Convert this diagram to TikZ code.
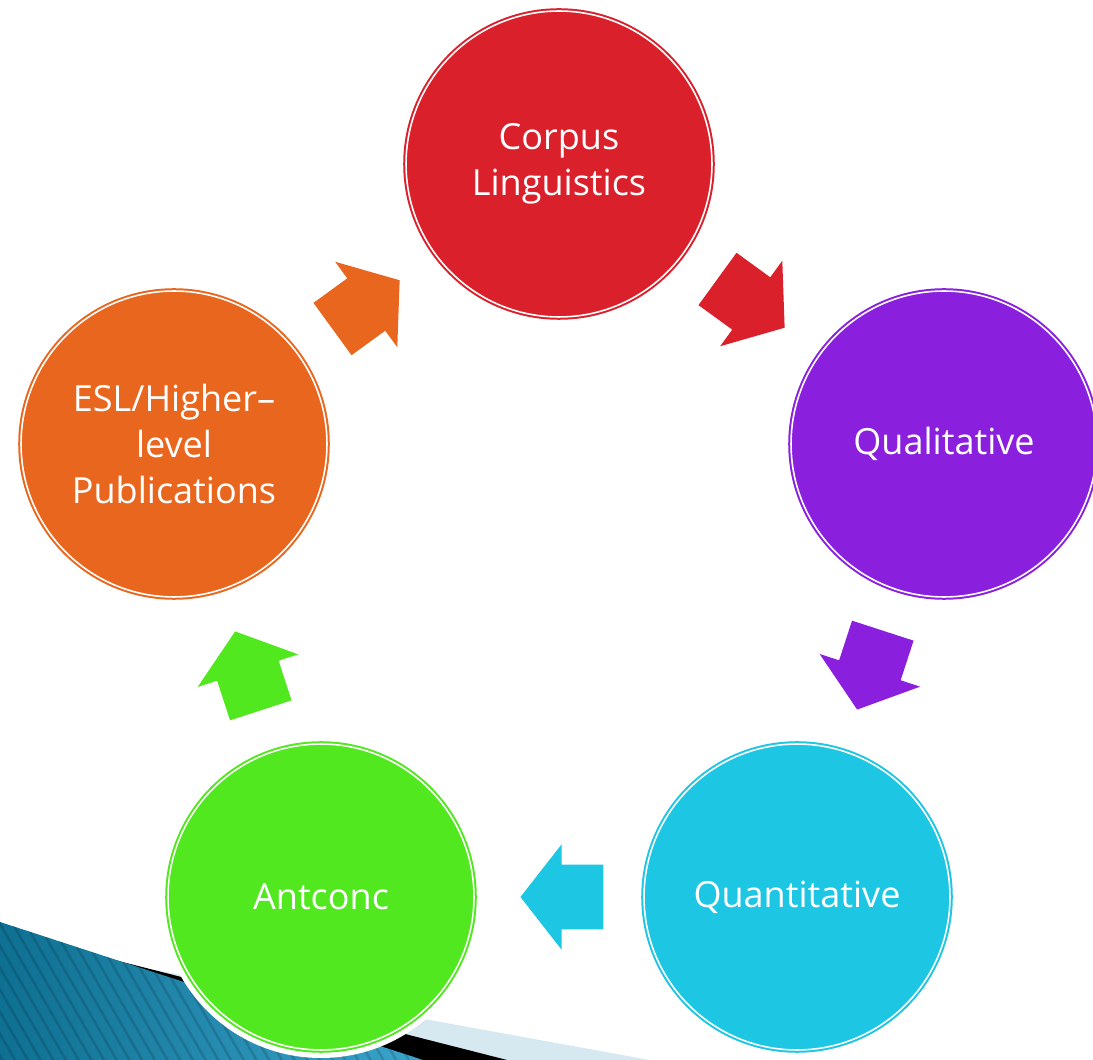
\documentclass[tikz,border=0pt]{standalone}
\usepackage{fontspec}
\newfontfamily\stagefont{Open Sans}
\usetikzlibrary{shapes.arrows,patterns.meta}

\definecolor{corpusred}{RGB}{218,32,42}
\definecolor{qualpurple}{RGB}{138,31,222}
\definecolor{quantcyan}{RGB}{29,198,227}
\definecolor{antgreen}{RGB}{82,232,32}
\definecolor{eslorange}{RGB}{233,102,30}
\definecolor{swooshdark}{RGB}{14,112,146}
\definecolor{swooshlight}{RGB}{64,170,210}
\definecolor{swooshpale}{RGB}{214,233,241}

\tikzset{
	stagecircle/.style={circle, fill=#1, draw=#1, double=white, double distance=0.032cm, line width=0.04cm, minimum size=6.12cm, inner sep=0pt, text=white, align=center, font=\stagefont\fontsize{20.5}{26}\selectfont},
	flowarrow/.style={single arrow, fill=#1, draw=none, minimum height=1.66cm, minimum width=2.1cm, single arrow head extend=0.41cm, single arrow tip angle=104, single arrow head indent=0pt, inner xsep=0pt, inner ysep=0.64cm, anchor=tip},
	halo/.style={fill=white}
}

\begin{document}
\begin{tikzpicture}[x=0.02cm, y=-0.02cm]
	%%%%% START %%%%%
	
	\useasboundingbox (0, 0) rectangle (1093, 1060);
	\clip (0, 0) rectangle (1093, 1060);
	
	% swoosh in the lower left corner
	\fill[swooshpale] (133, 966) -- (732, 1075) -- (133, 1075) -- cycle;
	\fill[black] (95, 955) -- (566, 1075) -- (95, 1075) -- cycle;
	\shade[left color=swooshdark, right color=swooshlight] (0, 922) -- (469, 1075) -- (0, 1075) -- cycle;
	\begin{scope}[transparency group, opacity=0.14]
		\fill[pattern={Lines[angle=-60, distance=0.22cm, line width=0.05cm]}, pattern color=black] (0, 922) -- (469, 1075) -- (0, 1075) -- cycle;
	\end{scope}
	
	% white rim round the circle sitting on the swoosh
	\fill[halo] (321, 897) circle (161);
	
	% stages
	\node[stagecircle=corpusred] (corpus) at (559, 164) {Corpus\\Linguistics};
	\node[stagecircle=qualpurple] (qual) at (944, 444) {Qualitative};
	\node[stagecircle=quantcyan] (quant) at (797, 897) {Quantitative};
	\node[stagecircle=antgreen] (antconc) at (321, 897) {Antconc};
	\node[stagecircle=eslorange] (esl) at (174, 444) {ESL/Higher–\\level\\Publications};
	
	% arrows between the stages
	\node[flowarrow=corpusred, rotate=-36] (corpus2qual) at (785, 328) {};
	\node[flowarrow=qualpurple, rotate=-108] (qual2quant) at (857, 710) {};
	\node[flowarrow=quantcyan, rotate=180] (quant2ant) at (520, 897) {};
	\node[flowarrow=antgreen, rotate=108] (ant2esl) at (235, 631) {};
	\node[flowarrow=eslorange, rotate=36] (esl2corpus) at (400, 280) {};
	
	%%%%% END %%%%%
\end{tikzpicture}
\end{document}
